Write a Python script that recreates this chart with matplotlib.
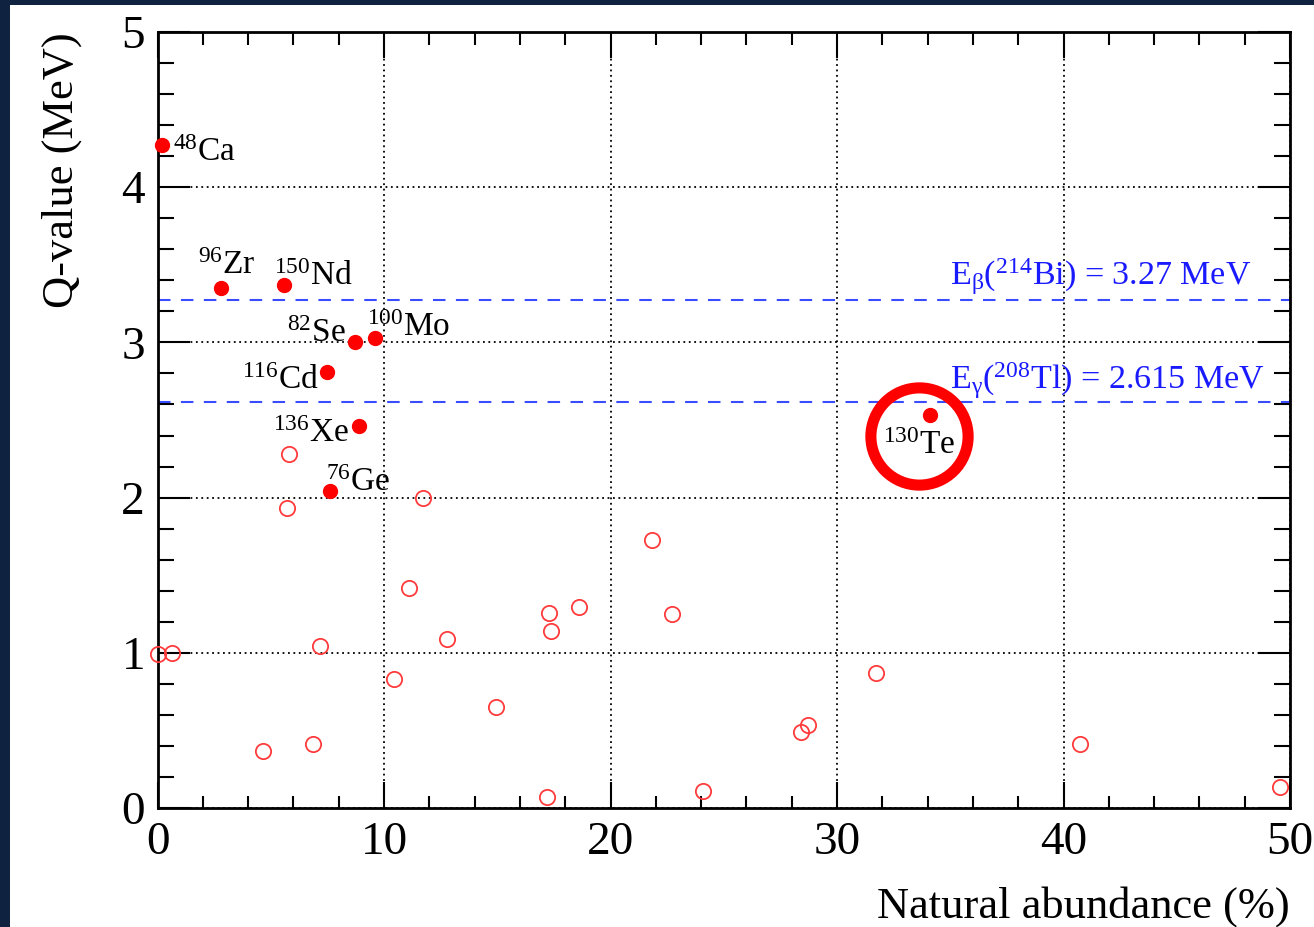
import matplotlib
matplotlib.use("Agg")
import matplotlib.pyplot as plt
from matplotlib.patches import Rectangle
from matplotlib.ticker import MultipleLocator

plt.rcParams["font.family"] = ["Liberation Serif", "DejaVu Serif"]
plt.rcParams["mathtext.fontset"] = "custom"
plt.rcParams["mathtext.rm"] = "Liberation Serif"
plt.rcParams["mathtext.it"] = "Liberation Serif:italic"

# candidate isotopes (filled) with labels
iso_names = [r"$^{48}$Ca", r"$^{96}$Zr", r"$^{150}$Nd", r"$^{82}$Se", r"$^{100}$Mo",
             r"$^{116}$Cd", r"$^{136}$Xe", r"$^{76}$Ge", r"$^{130}$Te"]
iso_abund = [0.19, 2.8, 5.6, 8.7, 9.6, 7.5, 8.9, 7.6, 34.1]
iso_q = [4.27, 3.35, 3.37, 3.00, 3.03, 2.81, 2.46, 2.04, 2.53]
# label anchor (left, baseline)
lab_x = [0.68, 1.79, 5.14, 5.70, 9.24, 3.72, 5.11, 7.44, 32.04]
lab_y = [4.17, 3.44, 3.37, 3.00, 3.04, 2.70, 2.36, 2.04, 2.28]

# other double-beta isotopes (open)
oth_abund = [5.82, 5.70, 11.74, 0.0, 0.63, 7.17, 10.45, 4.64, 6.88, 12.77, 21.85, 11.12,
             17.30, 17.37, 18.61, 22.73, 14.93, 17.18, 24.10, 28.40, 28.71, 31.72, 40.73, 49.56]
oth_q = [2.28, 1.93, 2.00, 0.99, 1.00, 1.045, 0.83, 0.365, 0.41, 1.086, 1.726, 1.415,
         1.254, 1.14, 1.296, 1.247, 0.652, 0.069, 0.111, 0.487, 0.534, 0.867, 0.412, 0.133]

bkg_lines = [3.27, 2.615]
bkg_labels = [r"E$_{\mathrm{β}}$($^{214}$Bi) = 3.27 MeV", r"E$_{\mathrm{γ}}$($^{208}$Tl) = 2.615 MeV"]
bkg_lab_y = [3.37, 2.70]

fig = plt.figure(figsize=(13.14, 9.27), dpi=100, facecolor="#0f2340")
fig.patches.append(Rectangle((10 / 1314, 0), 1, 1 - 5 / 927, transform=fig.transFigure,
                             facecolor="white", edgecolor="none", zorder=-1))
ax = fig.add_axes([157.5 / 1314, 119 / 927, 1132.5 / 1314, 776 / 927])
ax.set_zorder(1)

ax.set_xlim(0, 50)
ax.set_ylim(0, 5)
ax.xaxis.set_major_locator(MultipleLocator(10))
ax.xaxis.set_minor_locator(MultipleLocator(2))
ax.yaxis.set_major_locator(MultipleLocator(1))
ax.yaxis.set_minor_locator(MultipleLocator(0.2))
ax.grid(True, which="major", color="black", ls=(0, (1, 2)), lw=1.3)
for s in ax.spines.values():
    s.set_linewidth(2)
ax.tick_params(which="both", direction="in", top=True, right=True, width=1.5)
ax.tick_params(axis="x", which="major", length=19, labelsize=34, pad=10)
ax.tick_params(axis="x", which="minor", length=9)
ax.tick_params(axis="y", which="major", length=23, labelsize=34, pad=9)
ax.tick_params(axis="y", which="minor", length=11.5)

for yv in bkg_lines:
    ax.axhline(yv, color="#3a4cff", lw=1.5, ls=(0, (6, 5)), zorder=2)
for txt, yv in zip(bkg_labels, bkg_lab_y):
    ax.text(35.0, yv, txt, color="#1a1aff", fontsize=24.5, ha="left", va="baseline")

ax.plot(oth_abund, oth_q, "o", mfc="none", mec="#ff3b3b", ms=11, mew=1.3, clip_on=False, zorder=3)
ax.plot(iso_abund, iso_q, "o", color="#ff0000", ms=10, clip_on=False, zorder=4)
for name, lx, ly in zip(iso_names, lab_x, lab_y):
    ax.text(lx, ly, name, fontsize=24, ha="left", va="baseline", zorder=5)

# highlight ring around Te-130
ax.plot([33.62], [2.395], "o", mfc="none", mec="#ff0000", ms=70, mew=8, zorder=6)

ax.set_xlabel("Natural abundance (%)", fontsize=32, loc="right")
ax.set_ylabel("Q-value (MeV)", fontsize=32, loc="top")
ax.xaxis.set_label_coords(1.0, -0.101)
ax.yaxis.set_label_coords(-0.067, 1.0)

fig.savefig("out.png", dpi=100, facecolor=fig.get_facecolor())
